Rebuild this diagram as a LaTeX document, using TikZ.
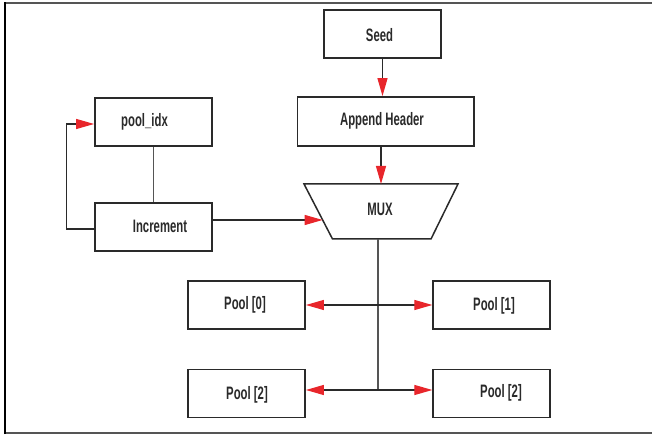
\documentclass[tikz,border=0pt]{standalone}
\usepackage{fontspec}
\setmainfont{Liberation Sans}[FakeStretch=0.63]
\usetikzlibrary{arrows.meta,calc}
\definecolor{arrowred}{HTML}{E8262B}
\definecolor{inkline}{HTML}{2A2A2A}
\definecolor{framegrey}{HTML}{555555}
\begin{document}
\begin{tikzpicture}[x=1pt,y=1pt,
  box/.style={draw=inkline,line width=1.8pt,minimum width=117pt,minimum height=48pt,inner sep=0pt},
  lbl/.style={font=\fontsize{18}{21}\selectfont\bfseries,text=inkline,inner sep=0pt},
  wire/.style={draw=inkline,line width=1.2pt},
  tip/.style={-{Triangle[length=18pt,width=10pt,color=arrowred]}},
  dtip/.style={{Triangle[length=18pt,width=10pt,color=arrowred]}-{Triangle[length=18pt,width=10pt,color=arrowred]}}]
\useasboundingbox (0,0) rectangle (652,435);

% page frame
\draw[framegrey,line width=1.7pt] (5,432.3) -- (652,432.3);
\draw[framegrey,line width=1.7pt] (5,1.8) -- (652,1.8);
\draw[black,line width=1.7pt] (5,0.9) -- (5,433.2);

% boxes
\node[box] (seed) at (382.5,401) {};
\node[box,minimum width=176.5pt,minimum height=49pt] (app) at (385.75,313.5) {};
\node[box] (pidx) at (153.5,313) {};
\node[box] (inc) at (153.5,208) {};
\node[box] (p0) at (246.5,130) {};
\node[box] (p1) at (491.75,130) {};
\node[box] (p2l) at (246.5,41.5) {};
\node[box] (p2r) at (491.75,41.5) {};

% labels
\node[lbl] (seedt) at (379.5,400) {Seed};
\node[lbl] (appt) at (382,314) {Append Header};
\node[lbl] (pidxt) at (144.5,313) {pool\_idx};
\node[lbl] (inct) at (160,209) {Increment};
\node[lbl] (p0t) at (245,130.5) {Pool [0]};
\node[lbl] (p1t) at (494,129.5) {Pool [1]};
\node[lbl] (p2lt) at (247,40) {Pool [2]};
\node[lbl] (p2rt) at (501,42.5) {Pool [2]};

% multiplexer
\coordinate (m1) at (304,251);
\coordinate (m2) at (458,251);
\coordinate (m3) at (431,196);
\coordinate (m4) at (332.5,196);
\draw[inkline,line width=1.5pt,line join=miter] (m1) -- (m2) -- (m3) -- (m4) -- cycle;
\node[lbl] (muxt) at (380,226) {MUX};
\coordinate (mt) at (381,251);
\coordinate (mb) at (378,196);
\coordinate (muxin) at ($(m1)!0.6545!(m4)$);
\coordinate (j2) at (378,45);

% connectors
\draw[wire,tip] (seed.south) -- (seed.south |- app.north);
\draw[wire,tip] (app.south -| mt) -- (mt);
\draw[wire,draw=framegrey] (pidx.south) -- (inc.north);
\draw[wire,tip] ([yshift=-2pt]inc.west) -- ++(-27.5,0) |- ([yshift=-2pt]pidx.west);
\draw[wire,tip] (inc.east |- muxin) -- (muxin);
\draw[wire,draw=framegrey] (mb) -- (j2);
\draw[wire,dtip] (p0.east) -- (p1.west);
\draw[wire,dtip] (p2l.east |- j2) -- (p2r.west |- j2);
\end{tikzpicture}
\end{document}
